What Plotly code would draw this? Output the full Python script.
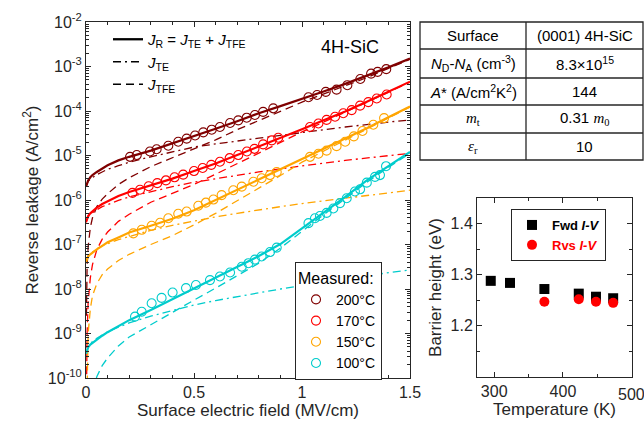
import plotly.graph_objects as go

# ---------------- data (log10 of current density, A/cm^2) ----------------
E_grid = [0, 0.005, 0.01, 0.02, 0.03, 0.05, 0.075, 0.1, 0.15, 0.2, 0.3, 0.4, 0.5,
          0.6, 0.7, 0.8, 0.9, 1.0, 1.1, 1.2, 1.3, 1.4, 1.5]
E_tfe = [0.002, 0.005, 0.01, 0.02, 0.03, 0.05, 0.075, 0.1, 0.15, 0.2, 0.3, 0.4, 0.5,
         0.6, 0.7, 0.8, 0.9, 1.0, 1.1, 1.2, 1.3, 1.4, 1.5]

log_jr_200 = [-5.70, -5.60, -5.56, -5.49, -5.44, -5.37, -5.29, -5.22, -5.11, -5.03, -4.89, -4.73, -4.56,
              -4.40, -4.23, -4.05, -3.89, -3.73, -3.56, -3.39, -3.21, -3.02, -2.82]
log_jte_200 = [-5.70, -5.61, -5.58, -5.53, -5.49, -5.43, -5.37, -5.31, -5.23, -5.15, -5.03, -4.92, -4.81,
               -4.74, -4.67, -4.61, -4.55, -4.48, -4.42, -4.36, -4.30, -4.25, -4.20]
log_jtfe_200 = [-8.6, -7.5, -7.05, -6.62, -6.40, -6.15, -5.98, -5.86, -5.65, -5.50, -5.25, -5.05, -4.86,
                -4.65, -4.42, -4.22, -4.01, -3.80, -3.62, -3.44, -3.25, -3.04, -2.84]

log_jr_170 = [-6.50, -6.40, -6.36, -6.30, -6.25, -6.17, -6.09, -6.03, -5.91, -5.82, -5.67, -5.52, -5.35,
              -5.18, -4.99, -4.80, -4.61, -4.41, -4.21, -4.01, -3.79, -3.57, -3.34]
log_jte_170 = [-6.50, -6.41, -6.37, -6.32, -6.28, -6.22, -6.15, -6.10, -6.01, -5.93, -5.81, -5.70, -5.60,
               -5.52, -5.44, -5.37, -5.30, -5.23, -5.17, -5.11, -5.06, -5.00, -4.95]
log_jtfe_170 = [-10.5, -9.0, -8.3, -7.75, -7.45, -7.12, -6.88, -6.72, -6.48, -6.32, -6.05, -5.85, -5.65,
                -5.42, -5.18, -4.95, -4.71, -4.47, -4.25, -4.03, -3.80, -3.58, -3.35]

log_jr_150 = [-7.39, -7.31, -7.27, -7.22, -7.18, -7.11, -7.03, -6.95, -6.84, -6.73, -6.58, -6.42, -6.23,
              -6.00, -5.77, -5.54, -5.31, -5.09, -4.86, -4.63, -4.39, -4.14, -3.90]
log_jte_150 = [-7.39, -7.30, -7.26, -7.20, -7.16, -7.10, -7.03, -6.98, -6.89, -6.82, -6.68, -6.57, -6.47,
               -6.38, -6.30, -6.22, -6.15, -6.08, -6.02, -5.96, -5.90, -5.84, -5.78]
log_jtfe_150 = [-11.0, -9.8, -9.0, -8.45, -8.15, -7.88, -7.68, -7.55, -7.36, -7.22, -7.00, -6.80, -6.56,
                -6.30, -6.02, -5.74, -5.45, -5.15, -4.90, -4.65, -4.40, -4.15, -3.91]

log_jr_100 = [-9.45, -9.35, -9.31, -9.25, -9.21, -9.14, -9.05, -8.97, -8.83, -8.70, -8.47, -8.23, -7.98,
              -7.75, -7.50, -7.26, -6.99, -6.64, -6.29, -5.93, -5.56, -5.23, -4.92]
log_jte_100 = [-9.45, -9.34, -9.30, -9.23, -9.18, -9.11, -9.03, -8.96, -8.86, -8.76, -8.61, -8.48, -8.36,
               -8.26, -8.17, -8.08, -8.00, -7.92, -7.84, -7.77, -7.70, -7.63, -7.57]
log_jtfe_100 = [-13.5, -12.5, -11.6, -10.8, -10.35, -9.97, -9.72, -9.55, -9.28, -9.08, -8.80, -8.52, -8.25,
                -7.98, -7.70, -7.42, -7.08, -6.70, -6.33, -5.97, -5.60, -5.27, -4.95]

# measured points
meas_E_200 = [0.204, 0.235, 0.296, 0.327, 0.381, 0.427, 0.466, 0.505, 0.543, 0.582, 0.62, 0.667, 0.705,
              0.744, 0.782, 0.82, 0.867, 1.03, 1.07, 1.11, 1.16, 1.21, 1.27, 1.32, 1.35, 1.39]
meas_logj_200 = [-5.03, -4.99, -4.91, -4.86, -4.78, -4.69, -4.62, -4.55, -4.48, -4.42, -4.36, -4.27, -4.21,
                 -4.15, -4.09, -4.02, -3.94, -3.69, -3.64, -3.57, -3.52, -3.42, -3.28, -3.16, -3.12, -3.06]
meas_E_170 = [0.215, 0.25, 0.29, 0.33, 0.37, 0.41, 0.45, 0.5, 0.54, 0.58, 0.62, 0.665, 0.705, 0.745,
              0.78, 0.82, 0.86, 0.89, 1.037, 1.076, 1.114, 1.153, 1.191, 1.23, 1.269, 1.307, 1.346, 1.392]
meas_logj_170 = [-5.84, -5.77, -5.69, -5.62, -5.56, -5.49, -5.43, -5.35, -5.28, -5.21, -5.14, -5.06, -4.99,
                 -4.91, -4.85, -4.75, -4.66, -4.60, -4.36, -4.28, -4.20, -4.13, -4.05, -3.98, -3.88,
                 -3.80, -3.72, -3.63]
meas_E_150 = [0.219, 0.258, 0.304, 0.343, 0.381, 0.427, 0.466, 0.52, 0.555, 0.59, 0.628, 0.682, 0.721,
              0.775, 0.813, 0.852, 0.883, 1.037, 1.076, 1.114, 1.16, 1.2, 1.24, 1.28, 1.33, 1.38]
meas_logj_150 = [-6.75, -6.67, -6.58, -6.51, -6.41, -6.31, -6.26, -6.13, -6.06, -5.99, -5.89, -5.78, -5.70,
                 -5.59, -5.51, -5.44, -5.37, -5.03, -4.96, -4.89, -4.79, -4.69, -4.57, -4.45, -4.31, -4.16]
meas_E_100 = [0.227, 0.258, 0.304, 0.35, 0.401, 0.463, 0.509, 0.574, 0.62, 0.667, 0.721, 0.752, 0.782,
              0.813, 0.852, 0.883, 1.03, 1.06, 1.083, 1.114, 1.145, 1.176, 1.207, 1.245, 1.269, 1.30,
              1.338, 1.361, 1.389]
meas_logj_100 = [-8.62, -8.51, -8.32, -8.20, -8.08, -7.98, -7.91, -7.80, -7.72, -7.63, -7.50, -7.42, -7.34,
                 -7.27, -7.17, -7.07, -6.52, -6.41, -6.36, -6.29, -6.19, -6.07, -5.96, -5.81, -5.76,
                 -5.61, -5.48, -5.44, -5.24]

temps_labels = ["200°C", "170°C", "150°C", "100°C"]

# inset: barrier height vs temperature
fwd_T = [295, 323, 373, 423, 448, 473]
fwd_phi = [1.288, 1.284, 1.272, 1.263, 1.257, 1.254]
rvs_T = [373, 423, 448, 473]
rvs_phi = [1.247, 1.252, 1.247, 1.245]
inset_x_ticks = [300, 400, 500]

# table
table_params = ["Surface",
                "<i>N</i><sub>D</sub>-<i>N</i><sub>A</sub> (cm<sup>-3</sup>)",
                "<i>A</i>* (A/cm<sup>2</sup>K<sup>2</sup>)",
                "<span style='font-family:Liberation Serif'><i>m</i><sub>t</sub></span>",
                "<span style='font-family:Liberation Serif'><i>ε</i><sub>r</sub></span>"]
table_values = ["(0001) 4H-SiC",
                "8.3×10<sup>15</sup>",
                "144",
                "0.31 <span style='font-family:Liberation Serif'><i>m</i><sub>0</sub></span>",
                "10"]

# ---------------- figure ----------------
W, H = 644, 426
def px(x):
    return x / W
def py(y):
    return 1 - y / H

FONT = "Liberation Sans, Arial, Helvetica, sans-serif"
AX = "#262626"
colors = ["#800000", "#FF0000", "#FFA500", "#00CCCC"]
series = [
    (log_jr_200, log_jte_200, log_jtfe_200, meas_E_200, meas_logj_200),
    (log_jr_170, log_jte_170, log_jtfe_170, meas_E_170, meas_logj_170),
    (log_jr_150, log_jte_150, log_jtfe_150, meas_E_150, meas_logj_150),
    (log_jr_100, log_jte_100, log_jtfe_100, meas_E_100, meas_logj_100),
]
DASH = "8px,5px"
DASHDOT = "8px,4px,2px,4px"

fig = go.Figure()
for (jr, jte, jtfe, me, mj), col, lab in zip(series, colors, temps_labels):
    fig.add_trace(go.Scatter(x=E_tfe, y=[10 ** v for v in jtfe], mode="lines",
                             line=dict(color=col, width=1.3, dash=DASH), showlegend=False))
    fig.add_trace(go.Scatter(x=E_grid, y=[10 ** v for v in jte], mode="lines",
                             line=dict(color=col, width=1.3, dash=DASHDOT), showlegend=False))
    fig.add_trace(go.Scatter(x=E_grid, y=[10 ** v for v in jr], mode="lines",
                             line=dict(color=col, width=2.2), showlegend=False))
for (jr, jte, jtfe, me, mj), col, lab in zip(series, colors, temps_labels):
    fig.add_trace(go.Scatter(x=me, y=[10 ** v for v in mj], mode="markers", name=lab,
                             marker=dict(symbol="circle-open", size=9, color=col, line=dict(width=1.1)),
                             legend="legend2"))

# line-style legend entries
fig.add_trace(go.Scatter(x=[None], y=[None], mode="lines", legend="legend",
                         name="<i>J</i><sub>R</sub> = <i>J</i><sub>TE</sub> + <i>J</i><sub>TFE</sub>",
                         line=dict(color="black", width=2.3)))
fig.add_trace(go.Scatter(x=[None], y=[None], mode="lines", legend="legend",
                         name="<i>J</i><sub>TE</sub>", line=dict(color="black", width=1.3, dash=DASHDOT)))
fig.add_trace(go.Scatter(x=[None], y=[None], mode="lines", legend="legend",
                         name="<i>J</i><sub>TFE</sub>", line=dict(color="black", width=1.3, dash=DASH)))

# inset
fig.add_trace(go.Scatter(x=fwd_T, y=fwd_phi, mode="markers", xaxis="x2", yaxis="y2",
                         name="<b>Fwd <i>I-V</i></b>", legend="legend3",
                         marker=dict(symbol="square", size=10, color="black")))
fig.add_trace(go.Scatter(x=rvs_T, y=rvs_phi, mode="markers", xaxis="x2", yaxis="y2",
                         name="<b><span style='color:#FF0000'>Rvs <i>I-V</i></span></b>", legend="legend3",
                         marker=dict(symbol="circle", size=10, color="#FF0000")))

major_y = [10 ** n for n in range(-10, -1)]
minor_y = [k * 10 ** n for n in range(-10, -2) for k in range(2, 10)]

axis_common = dict(showline=True, linecolor=AX, linewidth=1, mirror="ticks", ticks="inside",
                   tickcolor=AX, ticklen=5, showgrid=False, zeroline=False, automargin=False,
                   ticklabeloverflow="allow",
                   tickfont=dict(size=16, color=AX, family=FONT))

fig.update_layout(
    width=W, height=H, margin=dict(l=0, r=0, t=0, b=0, autoexpand=False),
    paper_bgcolor="white", plot_bgcolor="white",
    font=dict(family=FONT, color=AX),
    xaxis=dict(domain=[px(86), px(410)], range=[0, 1.5], anchor="y",
               tickvals=[0, 0.5, 1, 1.5], ticktext=["0", "0.5", "1", "1.5"],
               minor=dict(tickvals=[0.1, 0.2, 0.3, 0.4, 0.6, 0.7, 0.8, 0.9, 1.1, 1.2, 1.3, 1.4],
                          ticks="inside", ticklen=3, tickcolor=AX),
               title=dict(text="Surface electric field (MV/cm)", font=dict(size=17, color=AX), standoff=2),
               **axis_common),
    yaxis=dict(domain=[py(378), py(22)], type="log", range=[-10, -2], anchor="x",
               tickvals=major_y, ticktext=["10<sup>%d</sup>" % n for n in range(-10, -1)],
               minor=dict(tickvals=minor_y, ticks="inside", ticklen=3, tickcolor=AX),
               title=dict(text="Reverse leakage (A/cm<sup>2</sup>)", font=dict(size=17, color=AX), standoff=4),
               **axis_common),
    xaxis2=dict(domain=[px(477), px(632)], range=[275, 500.4], anchor="y2",
                tickvals=inset_x_ticks, ticktext=["300", "400", ""],
                minor=dict(tickvals=[350, 450], ticks="inside", ticklen=3, tickcolor=AX),
                title=dict(text="Temperature (K)", font=dict(size=17, color=AX), standoff=2),
                **axis_common),
    yaxis2=dict(domain=[py(377), py(198)], range=[1.1, 1.45], anchor="x2",
                tickvals=[1.2, 1.3, 1.4], ticktext=["1.2", "1.3", "1.4"],
                minor=dict(tickvals=[1.15, 1.25, 1.35], ticks="inside", ticklen=3, tickcolor=AX),
                title=dict(text="Barrier height (eV)", font=dict(size=17, color=AX), standoff=4),
                **axis_common),
    legend=dict(x=px(108), y=py(23), xanchor="left", yanchor="top", bgcolor="rgba(0,0,0,0)",
                borderwidth=0, font=dict(size=15, color="black", family=FONT)),
    legend2=dict(x=px(295), y=py(262), xanchor="left", yanchor="top", bgcolor="white",
                 bordercolor=AX, borderwidth=1, font=dict(size=14, color="black", family=FONT),
                 title=dict(text="Measured:", font=dict(size=16, color="black", family=FONT))),
    legend3=dict(x=px(511), y=py(209), xanchor="left", yanchor="top", bgcolor="white",
                 bordercolor=AX, borderwidth=1, font=dict(size=13, color="black", family=FONT)),
)

# last tick label of the inset x axis (sits at the page edge, as in the reference)
fig.add_annotation(x=inset_x_ticks[-1], y=py(394), xref="x2", yref="paper", text=str(inset_x_ticks[-1]),
                   showarrow=False, xanchor="center", yanchor="middle",
                   font=dict(size=16, color=AX, family=FONT))

fig.add_annotation(x=px(350), y=py(47), xref="paper", yref="paper", text="4H-SiC", showarrow=False,
                   xanchor="center", yanchor="middle", font=dict(size=18, color="black", family=FONT))

# table
tx0, tx1, tx2 = 420, 526, 643
row_y = [22, 49, 78, 105, 133, 160]
shapes = [dict(type="rect", xref="paper", yref="paper", x0=px(tx0), x1=px(tx2), y0=py(row_y[-1]),
               y1=py(row_y[0]), line=dict(color=AX, width=1.3))]
shapes.append(dict(type="line", xref="paper", yref="paper", x0=px(tx1), x1=px(tx1), y0=py(row_y[-1]),
                   y1=py(row_y[0]), line=dict(color=AX, width=1.3)))
for yy in row_y[1:-1]:
    shapes.append(dict(type="line", xref="paper", yref="paper", x0=px(tx0), x1=px(tx2), y0=py(yy),
                       y1=py(yy), line=dict(color=AX, width=1.3)))
fig.update_layout(shapes=shapes)
for i, (p, v) in enumerate(zip(table_params, table_values)):
    yc = (row_y[i] + row_y[i + 1]) / 2
    fig.add_annotation(x=px((tx0 + tx1) / 2), y=py(yc), xref="paper", yref="paper", text=p,
                       xanchor="center", yanchor="middle",
                       showarrow=False, font=dict(size=15, color="black", family=FONT))
    fig.add_annotation(x=px((tx1 + tx2) / 2), y=py(yc), xref="paper", yref="paper", text=v,
                       xanchor="center", yanchor="middle",
                       showarrow=False, font=dict(size=15, color="black", family=FONT))

fig.write_html("out.html", config={"displayModeBar": False},
               post_script="document.body.style.margin='0px';document.body.style.overflow='hidden';")
